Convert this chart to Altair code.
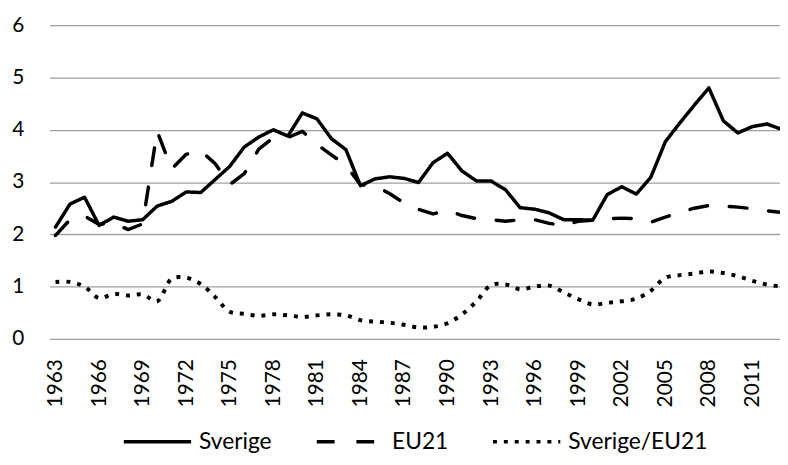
import altair as alt
import pandas as pd

years = list(range(1963, 2014))

sverige = [2.14, 2.58, 2.71, 2.17, 2.33, 2.25, 2.28, 2.54, 2.63, 2.81,
           2.80, 3.05, 3.30, 3.67, 3.86, 4.00, 3.88, 4.32, 4.21, 3.83,
           3.62, 2.93, 3.06, 3.10, 3.07, 2.99, 3.37, 3.55, 3.21, 3.02,
           3.02, 2.85, 2.51, 2.48, 2.41, 2.28, 2.28, 2.27, 2.76, 2.91,
           2.77, 3.09, 3.77, 4.13, 4.47, 4.80, 4.17, 3.94, 4.06, 4.11,
           4.01]

eu21 = [1.98, 2.28, 2.35, 2.19, 2.22, 2.09, 2.20, 3.97, 3.25, 3.53,
        3.60, 3.35, 2.95, 3.16, 3.63, 3.85, 3.85, 3.97, 3.72, 3.52,
        3.32, 2.95, 2.93, 2.78, 2.60, 2.48, 2.39, 2.46, 2.36, 2.30,
        2.28, 2.25, 2.28, 2.28, 2.21, 2.17, 2.25, 2.27, 2.30, 2.31,
        2.30, 2.23, 2.33, 2.42, 2.50, 2.55, 2.54, 2.52, 2.49, 2.45,
        2.42]

ratio = [1.09, 1.09, 1.00, 0.78, 0.86, 0.83, 0.85, 0.72, 1.15, 1.17,
         1.05, 0.80, 0.52, 0.48, 0.44, 0.47, 0.45, 0.42, 0.45, 0.47,
         0.45, 0.36, 0.33, 0.31, 0.27, 0.22, 0.23, 0.30, 0.47, 0.72,
         1.03, 1.04, 0.95, 1.00, 1.02, 0.89, 0.76, 0.66, 0.69, 0.72,
         0.77, 0.92, 1.17, 1.22, 1.25, 1.29, 1.26, 1.20, 1.11, 1.04,
         1.00]

series_names = ["Sverige", "EU21", "Sverige/EU21"]
tick_years = list(range(1963, 2012, 3))
y_ticks = [0, 1, 2, 3, 4, 5, 6]

rows = []
for name, vals in zip(series_names, [sverige, eu21, ratio]):
    for yr, v in zip(years, vals):
        rows.append({"year": yr, "value": v, "series": name})
df = pd.DataFrame(rows)

FONT = "Lato"

x_enc = alt.X("year:Q",
              scale=alt.Scale(domain=[1962.59, 2012.9], nice=False, zero=False),
              axis=alt.Axis(values=tick_years, format="d", labelAngle=-90,
                            ticks=False, domain=False, grid=False,
                            labelPadding=20, labelFont=FONT, labelFontSize=21,
                            labelColor="black", title=None))
y_enc = alt.Y("value:Q",
              scale=alt.Scale(domain=[0, 6], nice=False),
              axis=alt.Axis(values=y_ticks, ticks=False, domain=False,
                            grid=True, gridColor="#a0a0a0", gridWidth=1.3,
                            labelPadding=26, labelFont=FONT, labelFontSize=21,
                            labelColor="black", title=None))
dash_enc = alt.StrokeDash(
    "series:N",
    scale=alt.Scale(domain=series_names,
                    range=[[1, 0], [18, 22], [4, 7]]),
    sort=series_names,
    legend=alt.Legend(title=None, orient="none", direction="horizontal",
                      legendX=73, legendY=385,
                      symbolType="stroke", symbolSize=4624,
                      symbolStrokeWidth=3.5, symbolStrokeColor="black",
                      labelFont=FONT, labelFontSize=23, labelColor="black",
                      labelOffset=6, columnPadding=38),
)

base = alt.Chart(df).encode(x=x_enc, y=y_enc, strokeDash=dash_enc)

main_lines = base.transform_filter(
    alt.FieldOneOfPredicate(field="series", oneOf=["Sverige", "EU21"])
).mark_line(color="black", strokeWidth=3.5, strokeCap="round",
            strokeJoin="round", clip=True)

ratio_line = base.transform_filter(
    alt.FieldEqualPredicate(field="series", equal="Sverige/EU21")
).mark_line(color="black", strokeWidth=4, strokeCap="butt",
            interpolate="catmull-rom", clip=True)

chart = alt.layer(main_lines, ratio_line).properties(
    width=738, height=317,
    autosize=alt.AutoSizeParams(type="none"),
    padding={"left": 42, "top": 15, "right": 0, "bottom": 120},
).configure_view(stroke=None)

chart.save("out.html", embed_options={"renderer": "svg", "actions": False})
